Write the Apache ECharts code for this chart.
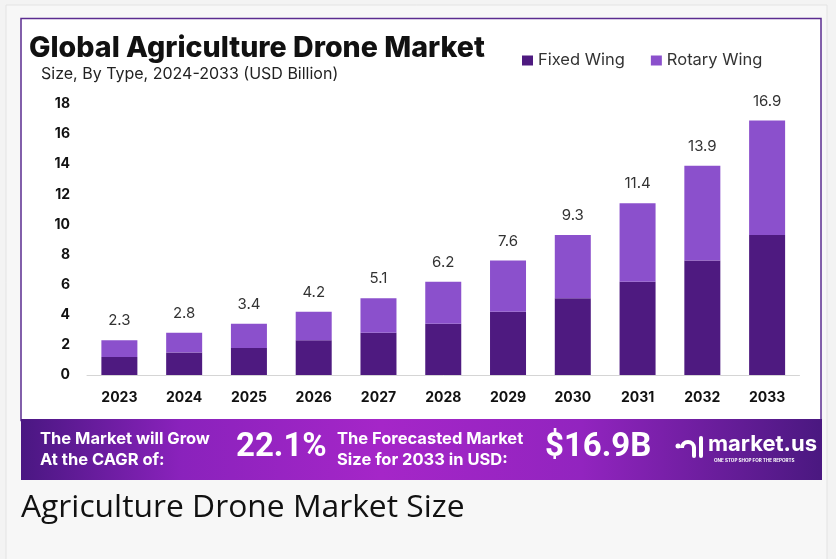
<!DOCTYPE html>
<html>
<head>
<meta charset="utf-8">
<script src="https://cdn.jsdelivr.net/npm/echarts@6/dist/echarts.min.js"></script>
<style>
html,body{margin:0;padding:0;background:#f3f3f3;}
#chart{width:836px;height:559px;}
</style>
</head>
<body>
<div id="chart"></div>
<script>
var categories = ['2023','2024','2025','2026','2027','2028','2029','2030','2031','2032','2033'];
var fixedWing = [1.2, 1.5, 1.8, 2.3, 2.8, 3.4, 4.2, 5.1, 6.2, 7.6, 9.3];
var rotaryWing = [1.1, 1.3, 1.6, 1.9, 2.3, 2.8, 3.4, 4.2, 5.2, 6.3, 7.6];
var totals = [2.3, 2.8, 3.4, 4.2, 5.1, 6.2, 7.6, 9.3, 11.4, 13.9, 16.9];
var yTicks = [0, 2, 4, 6, 8, 10, 12, 14, 16, 18];
var seriesNames = ['Fixed Wing', 'Rotary Wing'];

var chart = echarts.init(document.getElementById('chart'), null, {renderer: 'canvas'});
var bannerGrad = new echarts.graphic.LinearGradient(0, 0, 1, 0, [
  {offset: 0, color: '#4a1782'},
  {offset: 0.2, color: '#8a22bc'},
  {offset: 0.45, color: '#a526c8'},
  {offset: 0.7, color: '#9224bf'},
  {offset: 1, color: '#4a1880'}
]);

var option = {
  backgroundColor: '#f3f3f3',
  animation: false,
  title: [
    {text: 'Global Agriculture Drone Market', left: 29, top: 34, padding: 0,
     textStyle: {fontFamily: 'Inter', fontWeight: 800, fontSize: 28.6, color: '#111'}},
    {text: 'Size, By Type, 2024-2033 (USD Billion)', left: 41, top: 66, padding: 0,
     textStyle: {fontFamily: 'Inter', fontWeight: 400, fontSize: 16, color: '#222'}}
  ],
  legend: {
    data: seriesNames, left: 522, top: 52, padding: 0, itemWidth: 11, itemHeight: 10, itemGap: 26,
    icon: 'rect',
    textStyle: {fontFamily: 'Inter', fontSize: 16.5, color: '#333'}
  },
  grid: {left: 87, right: 36.5, top: 104, bottom: 184, containLabel: false},
  xAxis: {
    type: 'category', data: categories,
    axisLine: {lineStyle: {color: '#d5d5d5', width: 1}},
    axisTick: {show: false},
    axisLabel: {margin: 16, fontFamily: 'Inter', fontWeight: 700, fontSize: 14, color: '#111'}
  },
  yAxis: {
    type: 'value', min: yTicks[0], max: yTicks[yTicks.length - 1], interval: 2,
    axisLine: {show: false}, axisTick: {show: false}, splitLine: {show: false},
    axisLabel: {margin: 17, fontFamily: 'Inter', fontWeight: 700, fontSize: 14, color: '#111'}
  },
  series: [
    {name: seriesNames[0], type: 'bar', stack: 'a', data: fixedWing, barWidth: 36,
     itemStyle: {color: '#4e1a80'}},
    {name: seriesNames[1], type: 'bar', stack: 'a', data: rotaryWing, barWidth: 36,
     itemStyle: {color: '#8b50cc'},
     label: {show: true, position: 'top', distance: 12,
       fontFamily: 'Inter', fontSize: 15, color: '#333',
       formatter: function (p) { return totals[p.dataIndex].toFixed(1); }}}
  ],
  graphic: [
    {type: 'rect', z: -10, shape: {x: 6, y: 5, width: 821, height: 600},
     style: {fill: '#f7f7f7', stroke: '#e3e3e3', lineWidth: 1}},
    {type: 'rect', z: -9, shape: {x: 21, y: 18.5, width: 800, height: 402},
     style: {fill: '#ffffff', stroke: '#5b2c90', lineWidth: 1.5}},
    {type: 'rect', z: -8, shape: {x: 21, y: 419, width: 801, height: 61},
     style: {fill: bannerGrad}},
    {type: 'text', left: 40, top: 429, z: 10,
     style: {text: 'The Market will Grow\nAt the CAGR of:', fill: '#fff',
       font: '700 16.5px Inter', lineHeight: 21}},
    {type: 'text', left: 236, top: 431, z: 10,
     style: {text: '22.1%', fill: '#fff', font: '700 33px Roboto'}},
    {type: 'text', left: 337, top: 429, z: 10,
     style: {text: 'The Forecasted Market\nSize for 2033 in USD:', fill: '#fff',
       font: '700 16.5px Inter', lineHeight: 21}},
    {type: 'text', left: 545, top: 431, z: 10,
     style: {text: '$16.9B', fill: '#fff', font: '700 33px Roboto'}},
    {type: 'text', left: 708, top: 433, z: 10,
     style: {text: 'market.us', fill: '#fff', font: '700 22px Inter'}},
    {type: 'text', left: 714, top: 458, z: 10,
     style: {text: 'ONE STOP SHOP FOR THE REPORTS', fill: '#fff', font: '700 4.6px Inter'}},
    {type: 'group', z: 10, children: [
      {type: 'circle', shape: {cx: 678, cy: 446, r: 2.5}, style: {fill: '#fff'}},
      {type: 'arc', shape: {cx: 688, cy: 448, r: 6, startAngle: Math.PI, endAngle: 0, clockwise: true},
       style: {stroke: '#fff', lineWidth: 4, fill: null}},
      {type: 'line', shape: {x1: 694, y1: 448, x2: 694, y2: 456}, style: {stroke: '#fff', lineWidth: 4, lineCap: 'round'}},
      {type: 'line', shape: {x1: 701, y1: 438, x2: 701, y2: 456}, style: {stroke: '#fff', lineWidth: 4, lineCap: 'round'}}
    ]},
    {type: 'text', left: 21, top: 492, z: 10,
     style: {text: 'Agriculture Drone Market Size', fill: '#111', font: '400 31.8px "Open Sans"'}}
  ]
};
chart.setOption(option);
</script>
</body>
</html>
